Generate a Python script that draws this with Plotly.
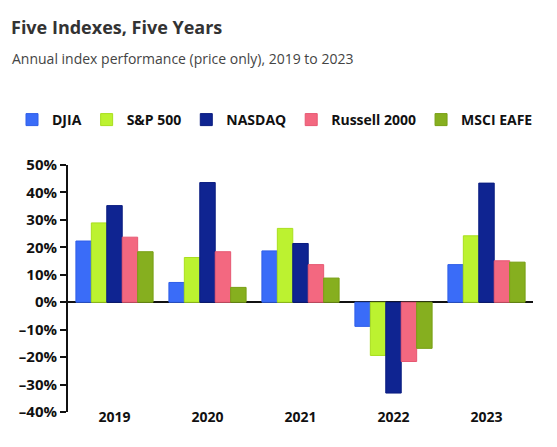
import plotly.graph_objects as go

years = ["2019", "2020", "2021", "2022", "2023"]
series_names = ["DJIA", "S&P 500", "NASDAQ", "Russell 2000", "MSCI EAFE"]
djia = [22.3, 7.2, 18.7, -8.8, 13.7]
sp500 = [28.9, 16.3, 26.9, -19.4, 24.2]
nasdaq = [35.2, 43.6, 21.4, -33.1, 43.4]
russell = [23.7, 18.4, 13.7, -21.6, 15.1]
eafe = [18.4, 5.4, 8.8, -16.8, 14.6]
y_ticks = [-40, -30, -20, -10, 0, 10, 20, 30, 40, 50]
y_tick_labels = ["\u201340%", "\u201330%", "\u201320%", "\u201310%", "0%", "10%", "20%", "30%", "40%", "50%"]

colors = ["#3A6CF8", "#BCF230", "#0F2491", "#F36880", "#86AF1F"]
edges = ["#2F5EE8", "#A9DE1E", "#0A1C80", "#E65872", "#789F14"]

FONT = "Open Sans"
fig = go.Figure()
for name, vals, c, e in zip(series_names, [djia, sp500, nasdaq, russell, eafe], colors, edges):
    fig.add_trace(go.Bar(x=years, y=vals, name=name, marker=dict(color=c, line=dict(color=e, width=1))))

fig.update_layout(
    width=557, height=447,
    paper_bgcolor="white", plot_bgcolor="white",
    margin=dict(l=68, r=24, t=165, b=35),
    barmode="group", bargap=0.17, bargroupgap=0,
    font=dict(family=FONT, color="#111111"),
    title=dict(text="<b>Five Indexes, Five Years</b>", xref="container", yref="container",
               x=11/557, xanchor="left", y=1-28/447, yanchor="middle",
               font=dict(size=18, color="#333333", family=FONT)),
    annotations=[dict(text="Annual index performance (price only), 2019 to 2023",
                      xref="paper", yref="paper", x=(10-68)/465, xanchor="left",
                      y=(412-59)/247, yanchor="middle", showarrow=False,
                      font=dict(size=14, color="#444444", family=FONT))],
    legend=dict(orientation="h", x=(12-68)/465, xanchor="left", y=(412-120)/247, yanchor="middle",
                font=dict(size=14, family=FONT, color="#111111", weight="bold"),
                itemwidth=30, tracegroupgap=0, traceorder="normal"),
    showlegend=True,
)
fig.update_xaxes(showgrid=False, showline=False, ticks="", zeroline=False,
                 tickfont=dict(size=14, family=FONT, color="#111111", weight="bold"),
                 ticklabelstandoff=-5)
fig.update_yaxes(range=[-40, 50], tickvals=y_ticks, ticktext=y_tick_labels, showgrid=False,
                 showline=True, linecolor="#111111", linewidth=2,
                 ticks="outside", ticklen=6, tickwidth=2, tickcolor="#111111",
                 zeroline=True, zerolinecolor="#111111", zerolinewidth=1.5,
                 tickfont=dict(size=15, family=FONT, color="#111111", weight="bold"))

fig.write_html("out.html")
